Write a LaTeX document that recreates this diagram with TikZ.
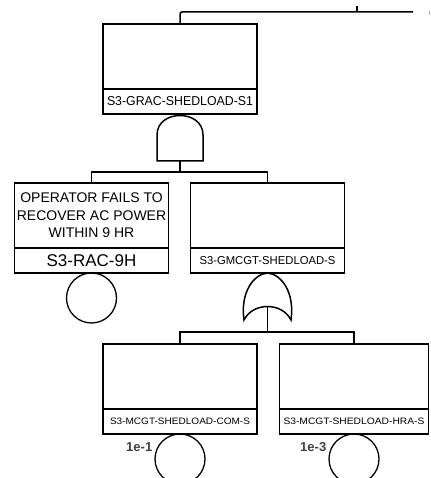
\documentclass[tikz,border=0pt]{standalone}
\usepackage{fontspec}
\setmainfont{Liberation Sans}
\usepackage{graphicx}
\usetikzlibrary{positioning}
\newcommand{\squeezeid}[3]{\resizebox{#1}{#2}{#3}}

\begin{document}
\begin{tikzpicture}[x=1pt,y=-1pt,line width=1.5pt,
    descbox/.style={draw,minimum width=154pt,minimum height=65pt,inner sep=0pt,outer sep=0pt,align=center},
    idbox/.style={draw,minimum width=154pt,minimum height=25pt,inner sep=0pt,outer sep=0pt},
    basic/.style={draw,circle,minimum size=50pt,inner sep=0pt,outer sep=0pt,line width=1.3pt},
    prob/.style={font=\fontsize{13}{15}\selectfont\bfseries,text=black!75,inner sep=1pt}]
  \useasboundingbox (0,0) rectangle (430,478);

  % top event
  \node[descbox] (grac) at (180,56.5) {};
  \node[idbox,below=0pt of grac] (grac-id) {\squeezeid{146pt}{9pt}{S3-GRAC-SHEDLOAD-S1}};
  \coordinate (feed) at (413,12);
  \coordinate (tick) at (357,6);
  \coordinate (edge) at (429,11);
  \draw[rounded corners=2pt] (grac.north) |- (feed);
  \draw (tick) -- (tick |- feed);
  \draw[black!30,line width=1pt] (edge) -- ++(0,4);

  % and gate
  \draw (157,161) -- (157,135) .. controls (157,109) and (203,109) .. (203,135) -- (203,161) -- cycle;
  \coordinate (and-out) at (180,161);

  % second level
  \node[descbox,font=\fontsize{14}{17.5}\selectfont] (rac) at (91.5,215.5) {OPERATOR FAILS TO\\RECOVER AC POWER\\WITHIN 9 HR};
  \node[idbox,below=0pt of rac,font=\fontsize{17}{20}\selectfont] (rac-id) {S3-RAC-9H};
  \node[basic,below=0pt of rac-id] (rac-c) {};
  \node[descbox] (gmcgt) at (267.5,215.5) {};
  \node[idbox,below=0pt of gmcgt] (gmcgt-id) {\squeezeid{136pt}{8pt}{S3-GMCGT-SHEDLOAD-S}};
  \draw (and-out) -- ++(0,11) coordinate (and-bus);
  \draw (rac.north) |- (and-bus) -| (gmcgt.north);

  % or gate
  \draw (244,320) .. controls (240,292) and (254,274) .. (267.5,273)
    .. controls (281,274) and (295,292) .. (291,320)
    .. controls (282,302) and (253,302) .. (244,320) -- cycle;
  \coordinate (or-out) at (267.5,306.5);
  \draw (or-out) -- ++(0,25.5) coordinate (or-bus);

  % basic events
  \node[descbox] (com) at (180,376.5) {};
  \node[idbox,below=0pt of com] (com-id) {\squeezeid{140pt}{6.5pt}{S3-MCGT-SHEDLOAD-COM-S}};
  \node[basic,below=0pt of com-id] (com-c) {};
  \node[prob,left=1pt of com-c,yshift=12pt] (com-p) {1e-1};
  \node[descbox,minimum width=149pt] (hra) at (354,376.5) {};
  \node[idbox,minimum width=149pt,below=0pt of hra] (hra-id) {\squeezeid{141pt}{6.5pt}{S3-MCGT-SHEDLOAD-HRA-S}};
  \node[basic,below=0pt of hra-id] (hra-c) {};
  \node[prob,left=1pt of hra-c,yshift=12pt] (hra-p) {1e-3};
  \draw (com.north) |- (or-bus) -| (hra.north);
\end{tikzpicture}
\end{document}
